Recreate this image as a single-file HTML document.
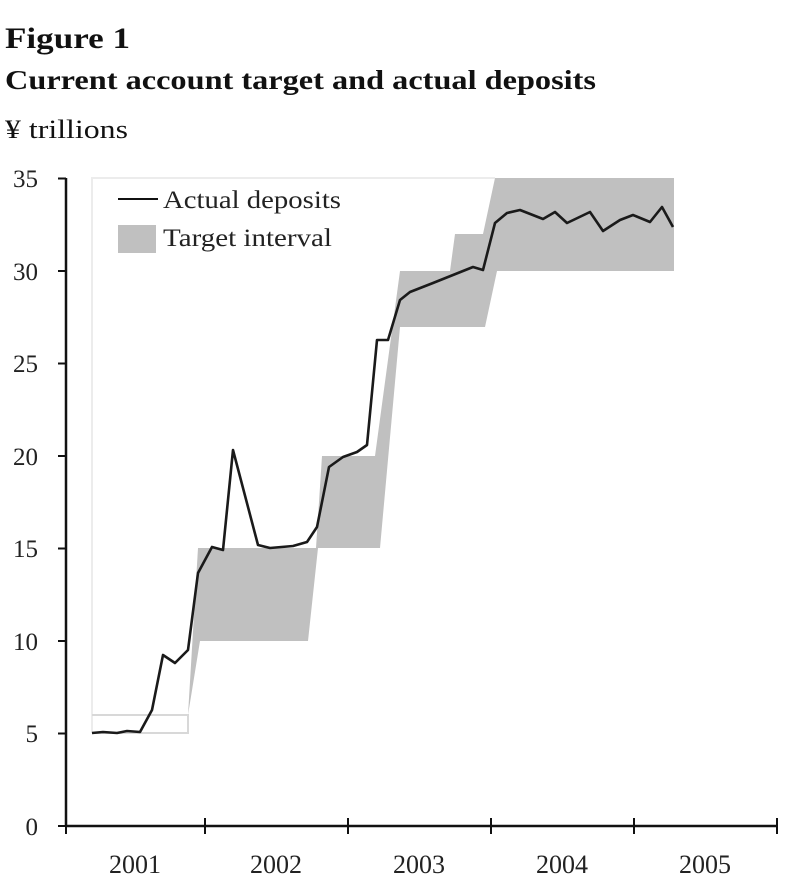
<!DOCTYPE html>
<html><head><style>
html,body{margin:0;padding:0;background:#fff;}
svg{display:block;font-family:"Liberation Serif",serif;}
</style></head><body>
<svg width="802" height="890" viewBox="0 0 802 890">
<text x="5" y="48" font-size="30" font-weight="bold" fill="#111" textLength="125" lengthAdjust="spacingAndGlyphs">Figure 1</text>
<text x="5" y="89" font-size="27" font-weight="bold" fill="#111" textLength="591" lengthAdjust="spacingAndGlyphs">Current account target and actual deposits</text>
<text x="5" y="138" font-size="26" fill="#111" textLength="123" lengthAdjust="spacingAndGlyphs">¥ trillions</text>
<!-- faint frame -->
<polyline points="92,733 92,178 495,178" fill="none" stroke="#ececec" stroke-width="2"/>
<polyline points="92,733 188,733 188,715 92,715" fill="none" stroke="#d8d8d8" stroke-width="2"/>
<polygon fill="#c0c0c0" points="188,715 198,548 316,548 322,456 375,456 400,271 450,271 455,234 483,234 495,178 674,178 674,271 497,271 485,327 400,327 380,548 318,548 308,641 200,641 188,715"/>
<!-- legend -->
<line x1="118" y1="199" x2="158" y2="199" stroke="#111" stroke-width="2"/>
<text x="163" y="208" font-size="25" fill="#222" textLength="178" lengthAdjust="spacingAndGlyphs">Actual deposits</text>
<rect x="118" y="225" width="38" height="28" fill="#c0c0c0"/>
<text x="163" y="246" font-size="25" fill="#222" textLength="169" lengthAdjust="spacingAndGlyphs">Target interval</text>
<!-- data line -->
<polyline fill="none" stroke="#1a1a1a" stroke-width="2.6" stroke-linejoin="round" points="92,733 103,732 117,733 127,731 140,732 152,710 163,655 175,663 188,650 198,573 212,547 223,550 233,450 258,545 270,548 293,546 307,542 317,527 329,467 343,457 357,452 367,445 377,340 388,340 400,300 410,292 433,283 453,275 473,267 483,270 495,223 507,213 520,210 543,219 555,212 567,223 590,212 603,231 620,220 633,215 650,222 662,207 673,227"/>
<!-- axes -->
<line x1="66" y1="178" x2="66" y2="827" stroke="#111" stroke-width="2.5"/>
<line x1="65" y1="826" x2="778" y2="826" stroke="#111" stroke-width="2.5"/>
<g stroke="#111" stroke-width="2">
<line x1="58" y1="826" x2="66" y2="826"/><line x1="58" y1="733.5" x2="66" y2="733.5"/><line x1="58" y1="641" x2="66" y2="641"/><line x1="58" y1="548.5" x2="66" y2="548.5"/><line x1="58" y1="456" x2="66" y2="456"/><line x1="58" y1="363.5" x2="66" y2="363.5"/><line x1="58" y1="271" x2="66" y2="271"/><line x1="58" y1="178.5" x2="66" y2="178.5"/>
<line x1="66" y1="818" x2="66" y2="834"/><line x1="205" y1="818" x2="205" y2="834"/><line x1="348" y1="818" x2="348" y2="834"/><line x1="491" y1="818" x2="491" y2="834"/><line x1="634" y1="818" x2="634" y2="834"/><line x1="777" y1="818" x2="777" y2="834"/>
</g>
<g font-size="25" fill="#222" text-anchor="end">
<text x="38" y="835">0</text><text x="38" y="742">5</text><text x="38" y="650">10</text><text x="38" y="557">15</text><text x="38" y="465">20</text><text x="38" y="372">25</text><text x="38" y="280">30</text><text x="38" y="187">35</text>
</g>
<g font-size="26" fill="#222" text-anchor="middle">
<text x="135" y="873">2001</text><text x="276" y="873">2002</text><text x="419" y="873">2003</text><text x="562" y="873">2004</text><text x="705" y="873">2005</text>
</g>
</svg>
</body></html>
